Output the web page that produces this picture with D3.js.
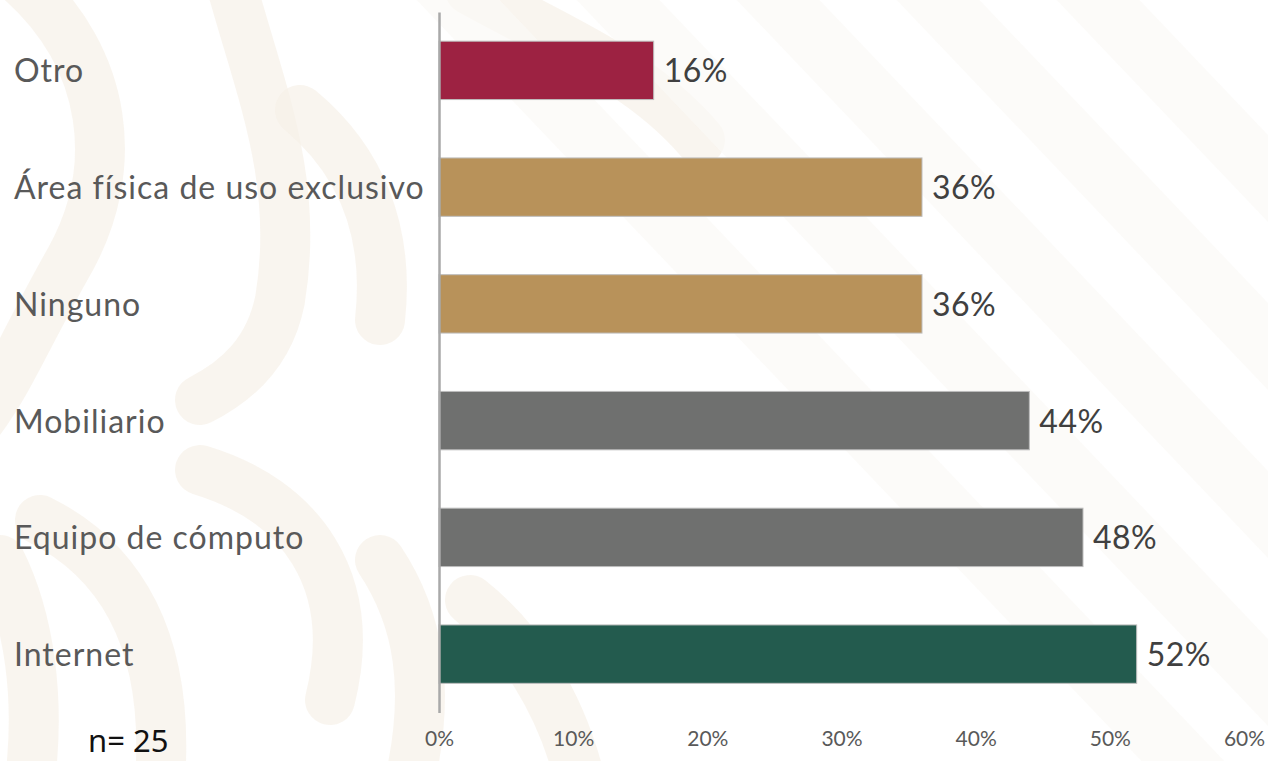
<!DOCTYPE html>
<html>
<head>
<meta charset="utf-8">
<script src="https://cdn.jsdelivr.net/npm/d3@7"></script>
<style>
  html, body { margin: 0; padding: 0; background: #ffffff; }
  svg { display: block; }
</style>
</head>
<body>
<svg id="chart" width="1268" height="761"></svg>
<script>
// Recursos con los que cuentan (porcentaje de respuestas)
const categories = ["Otro", "Área física de uso exclusivo", "Ninguno", "Mobiliario", "Equipo de cómputo", "Internet"];
const values = [0.16, 0.36, 0.36, 0.44, 0.48, 0.52];
const barColors = ["#9d2242", "#b8925a", "#b8925a", "#6f706f", "#6f706f", "#235b4e"];
const tickValues = [0, 0.1, 0.2, 0.3, 0.4, 0.5, 0.6];
const sampleNote = "n= 25";

const svg = d3.select("#chart");

// Soft decorative ornament in the background
const deco = svg.append("g").attr("fill", "none").attr("stroke-linecap", "round");
const leftCurves = [
  "M 20 -20 C 110 60, 120 170, 70 260 C 30 330, 10 380, -20 420",
  "M 230 -20 C 260 90, 300 180, 280 300 C 270 350, 240 380, 200 400",
  "M 300 110 C 360 160, 390 230, 380 320",
  "M 470 -10 C 560 40, 640 70, 700 140",
  "M 40 520 C 120 560, 170 640, 160 780",
  "M 200 470 C 300 500, 360 580, 330 700",
  "M 380 560 C 420 620, 430 690, 410 780",
  "M 470 600 C 520 640, 560 700, 580 780",
  "M 0 560 C 30 620, 40 700, 30 780"
];
deco.selectAll("path.curl").data(leftCurves).join("path")
  .attr("class", "curl")
  .attr("d", d => d)
  .attr("stroke", "#f6efe6")
  .attr("stroke-width", 50)
  .attr("opacity", 0.65);

const stripes = [-200, -40, 120, 280, 440];
deco.selectAll("line.stripe").data(stripes).join("line")
  .attr("class", "stripe")
  .attr("x1", d => 620 + d).attr("y1", -40)
  .attr("x2", d => 1420 + d).attr("y2", 800)
  .attr("stroke", "#fbf9f6")
  .attr("stroke-width", 60)
  .attr("opacity", 0.7);

// Scales
const x = d3.scaleLinear().domain([0, 0.6]).range([439, 1244]);
const y = d3.scaleBand().domain(categories).range([12, 712.5]).paddingInner(0.5).paddingOuter(0.25);

// Bars
svg.append("g").selectAll("rect").data(categories).join("rect")
  .attr("x", x(0))
  .attr("y", d => y(d))
  .attr("width", (d, i) => x(values[i]) - x(0))
  .attr("height", y.bandwidth())
  .attr("fill", (d, i) => barColors[i])
  .attr("stroke", "#bdbdbd")
  .attr("stroke-width", 1);

// Vertical axis line
const yAxis = svg.append("g")
  .attr("transform", `translate(${x(0)},0)`)
  .call(d3.axisLeft(y).tickSize(0).tickFormat(""));
yAxis.select(".domain").attr("stroke", "#a9a9a9").attr("stroke-width", 2.5);

// Category labels, left aligned
svg.append("g").selectAll("text").data(categories).join("text")
  .attr("x", 14)
  .attr("y", d => y(d) + y.bandwidth() / 2 + 12)
  .attr("font-family", "Lato, sans-serif")
  .attr("font-size", 32)
  .attr("letter-spacing", 1)
  .attr("fill", "#595959")
  .text(d => d);

// Value labels
const pct = d3.format(".0%");
svg.append("g").selectAll("text").data(categories).join("text")
  .attr("x", (d, i) => x(values[i]) + 10)
  .attr("y", d => y(d) + y.bandwidth() / 2 + 12)
  .attr("font-family", "Lato, sans-serif")
  .attr("font-size", 32)
  .attr("letter-spacing", 0.5)
  .attr("fill", "#404040")
  .text((d, i) => pct(values[i]));

// Horizontal axis tick labels
const xAxis = svg.append("g")
  .attr("transform", "translate(0,728)")
  .call(d3.axisBottom(x).tickValues(tickValues).tickSize(0).tickFormat(pct));
xAxis.select(".domain").remove();
xAxis.selectAll("text")
  .attr("font-family", "Lato, sans-serif")
  .attr("font-size", 21)
  .attr("fill", "#595959")
  .attr("dy", "0.71em");

// Sample size note
svg.append("text")
  .attr("x", 88)
  .attr("y", 752)
  .attr("font-family", "'Noto Sans', sans-serif")
  .attr("font-size", 31)
  .attr("fill", "#111111")
  .text(sampleNote);
</script>
</body>
</html>
